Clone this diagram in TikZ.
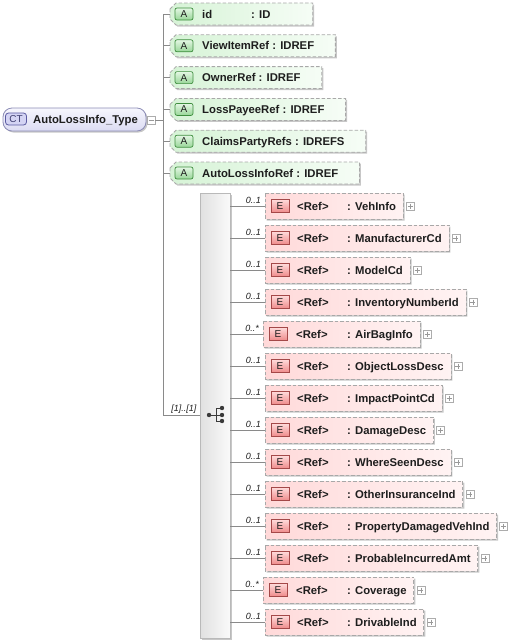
\documentclass[tikz,border=0pt]{standalone}
\usepackage{fontspec}
\setmainfont{Liberation Sans}
\usetikzlibrary{backgrounds,calc,shadows}
\definecolor{connc}{HTML}{8A8A8A}
\definecolor{dashc}{HTML}{A8A8A8}
\definecolor{attrL}{HTML}{D6F3D6}
\definecolor{attrR}{HTML}{F6FDF6}
\definecolor{elemL}{HTML}{FFD9D9}
\definecolor{elemR}{HTML}{FFF3F3}
\definecolor{abT}{HTML}{E4F7E4}
\definecolor{abB}{HTML}{98D698}
\definecolor{abD}{HTML}{3E8E3E}
\definecolor{ebT}{HTML}{FFDADA}
\definecolor{ebB}{HTML}{EE8A8A}
\definecolor{ebD}{HTML}{A44848}
\definecolor{ctT}{HTML}{F6F6FD}
\definecolor{ctB}{HTML}{DCDCF3}
\definecolor{ctD}{HTML}{8C8CB6}
\definecolor{ctbF}{HTML}{D4D4F4}
\definecolor{ctbD}{HTML}{5A5AA0}
\definecolor{txtc}{HTML}{1E1E1E}
\definecolor{iconc}{HTML}{3A3A3A}
\begin{document}
\begin{tikzpicture}[x=1pt,y=-1pt,
  every node/.style={font=\fontsize{11.3}{13}\selectfont\bfseries, text=txtc},
  conn/.style={draw=connc, line width=0.8pt},
  txt/.style={anchor=base west, inner sep=0pt},
  mult/.style={anchor=base east, inner sep=0pt, font=\fontsize{9}{10}\selectfont\itshape},
  dbox/.style={draw=dashc, line width=0.8pt, dash pattern=on 3.5pt off 2pt},
  shad/.style={drop shadow={shadow xshift=1.5pt, shadow yshift=-1.5pt, opacity=.22, fill=black}},
  ashape/.style={dbox, left color=attrL, right color=attrR, shad},
  eshape/.style={dbox, left color=elemL, right color=elemR, shad},
  abadge/.style={draw=abD, line width=0.7pt, top color=abT, bottom color=abB, rounded corners=2pt, minimum width=18pt, minimum height=12pt, inner sep=0pt, font=\fontsize{10}{12}\selectfont},
  ebadge/.style={draw=ebD, line width=0.7pt, top color=ebT, bottom color=ebB, minimum width=18pt, minimum height=13pt, inner sep=0pt, font=\fontsize{10}{12}\selectfont},
  ctbox/.style={draw=ctD, line width=0.8pt, top color=ctT, bottom color=ctB, rounded corners=9pt, minimum width=143pt, minimum height=23pt, inner sep=0pt, shad},
  ctbadge/.style={draw=ctbD, line width=0.8pt, fill=ctbF, rounded corners=3pt, minimum width=21pt, minimum height=12pt, inner sep=0pt, font=\fontsize{10}{12}\selectfont, text=ctbD!70!black},
  pmbox/.style={draw=gray!65, fill=white, line width=0.6pt, minimum size=8pt, inner sep=0pt},
  pmline/.style={draw=gray!80, line width=0.6pt},
  choicebar/.style={draw=gray!55, line width=0.8pt, left color=gray!24, right color=gray!4, minimum width=30pt, minimum height=445pt, inner sep=0pt, shad},
  icon/.style={draw=iconc, line width=1pt}
]
\useasboundingbox (0,0) rectangle (507,641);

% root complex type
\node[ctbox] (ct) at (74.5,119.5) {};
\node[ctbadge] (ctb) at (16,119) {CT};
\node[txt] (ctname) at (33,123.5) {AutoLossInfo\_Type};
\node[pmbox] (minus) at (151,120) {};
\draw[pmline] ($(minus.center)+(-2.5,0)$) -- ($(minus.center)+(2.5,0)$);
\coordinate (spine) at (163,120);
\draw[conn] (minus.east) -- (spine);

% attributes
\foreach \k/\t/\p in {0/{id\hspace{39pt}: ID}/42,
                      1/{ViewItemRef : IDREF}/21,
                      2/{OwnerRef : IDREF}/21,
                      3/{LossPayeeRef : IDREF}/21,
                      4/{ClaimsPartyRefs : IDREFS}/21,
                      5/{AutoLossInfoRef : IDREF}/21}{
  \pgfmathsetmacro\yy{14+31.8*\k}
  \coordinate (am\k) at (170,\yy);
  \node[txt] (at\k) at (202,\yy+4) {\t};
  \node[abadge] (ab\k) at (184,\yy) {A};
  \coordinate (ar\k) at ($(at\k.east |- am\k)+(\p,0)$);
  \begin{pgfonlayer}{background}
    \path[ashape] (170,\yy-5) -- (176,\yy-11) -| (ar\k) |- (176,\yy+11) -- (170,\yy+5) -- cycle;
  \end{pgfonlayer}
  \draw[conn] (spine |- am\k) -- (am\k);
}

% choice compositor
\coordinate (cj) at (163,415);
\draw[conn] (spine |- am0) -- (cj);
\node[choicebar] (bar) at (215,415.5) {};
\draw[conn] (cj) -- (bar.west |- cj);
\node[mult] (card) at (196.5,411.5) {[1]..[1]};
\draw[icon] (209,415) -- (216,415) (216,408) -- (216,421)
            (216,408) -- (222,408) (216,415) -- (222,415) (216,421) -- (222,421);
\fill[iconc] (209,415) circle (2.2) (222,408) circle (2.2) (222,415) circle (2.2) (222,421) circle (2.2);

% elements
\foreach \i/\n/\s in {0/VehInfo/0, 1/ManufacturerCd/0, 2/ModelCd/0,
   3/InventoryNumberId/0, 4/AirBagInfo/1, 5/ObjectLossDesc/0,
   6/ImpactPointCd/0, 7/DamageDesc/0, 8/WhereSeenDesc/0,
   9/OtherInsuranceInd/0, 10/PropertyDamagedVehInd/0,
   11/ProbableIncurredAmt/0, 12/Coverage/1, 13/DrivableInd/0}{
  \pgfmathsetmacro\yy{206+32*\i}
  \pgfmathsetmacro\dd{2*\s}
  \coordinate (m\i) at (265,\yy);
  \coordinate (ein\i) at (265-\dd,\yy);
  \node[txt] (ref\i) at (297-\dd/2,\yy+4) {<Ref>};
  \node[txt] (en\i) at (347,\yy+4) {: \n};
  \node[ebadge] (eb\i) at (280-\dd,\yy) {E};
  \coordinate (er\i) at ($(en\i.east |- m\i)+(7,0)$);
  \begin{pgfonlayer}{background}
    \path[eshape] (265-\dd,\yy-13) -| (er\i) |- (265-\dd,\yy+13) -- cycle;
  \end{pgfonlayer}
  \node[pmbox] (pl\i) at ($(er\i)+(7,0)$) {};
  \draw[pmline] ($(pl\i.center)+(-2.5,0)$) -- ($(pl\i.center)+(2.5,0)$)
                ($(pl\i.center)+(0,-2.5)$) -- ($(pl\i.center)+(0,2.5)$);
  \draw[conn] (bar.east |- ein\i) -- (ein\i);
  \node[mult] (mu\i) at (261-\dd,\yy-3) {0..\ifnum\s=1 *\else 1\fi};
}
\end{tikzpicture}
\end{document}
